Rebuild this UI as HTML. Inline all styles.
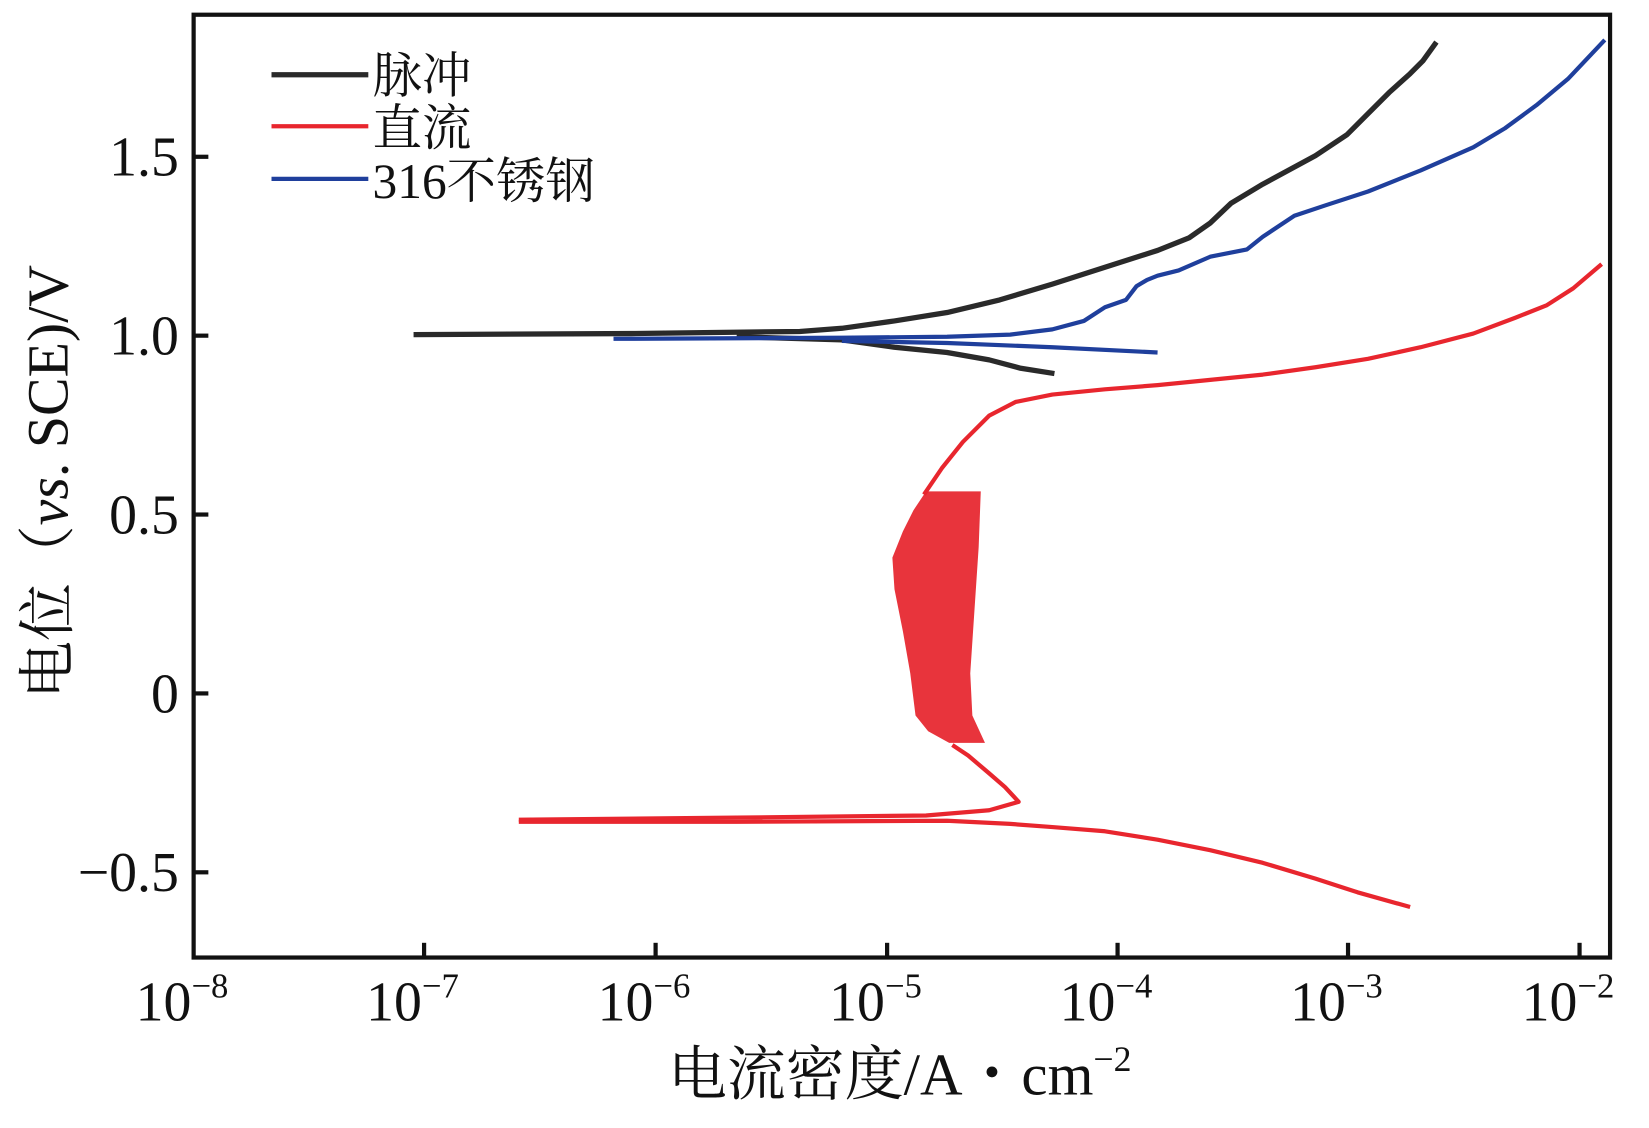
<!DOCTYPE html>
<html><head><meta charset="utf-8"><style>
html,body{margin:0;padding:0;background:#fff;}
svg{display:block;}
text{font-family:"Liberation Serif","Noto Serif CJK SC",serif;fill:#111;}
</style></head><body>
<svg width="1649" height="1128" viewBox="0 0 1567 1072" preserveAspectRatio="none" xmlns="http://www.w3.org/2000/svg">
<rect x="0" y="0" width="1567" height="1072" fill="#fff"/>
<path d="M880,467 L932,467 L930,520 L926,580 L922,640 L924,680 L936,706 L902,706 L882,695 L870,680 L865,640 L858,600 L850,560 L848,530 L858,505 L868,485 Z" fill="#e8343c"/>
<g fill="none" stroke="#e8262e" stroke-width="4" stroke-linejoin="round">
<path d="M493,781 L700,781 L900,780 L960,783 L1000,786 L1050,790 L1100,798 L1150,808 L1200,820 L1250,835 L1290,848 L1340,862"/>
<path d="M493,779 L700,777 L880,775 L940,770 L968,762 L955,748 L940,735 L920,718 L905,708"/>
<path d="M878,470 L895,445 L915,420 L940,395 L965,382 L1000,375 L1050,370 L1100,366 L1150,361 L1200,356 L1250,349 L1300,341 L1350,330 L1400,317 L1440,302 L1470,290 L1495,274 L1522,251"/>
</g>
<g fill="none" stroke="#2a2a2a" stroke-width="5" stroke-linejoin="round">
<path d="M393,318 L600,317 L760,315 L800,312 L850,305 L900,297 L950,285 L1000,270 L1050,254 L1100,238 L1130,226 L1150,212 L1170,193 L1200,175 L1250,148 L1280,128 L1300,108 L1320,88 L1340,70 L1352,58 L1365,40"/>
<path d="M700,320 L800,323 L850,330 L900,335 L940,342 L970,350 L1002,355"/>
</g>
<g fill="none" stroke="#1f3f9c" stroke-width="4" stroke-linejoin="round">
<path d="M583,322 L800,321 L900,320 L960,318 L1000,313 L1030,305 L1050,292 L1070,285 L1080,272 L1090,266 L1100,262 L1120,257 L1150,244 L1185,237 L1200,225 L1230,205 L1260,195 L1300,182 L1350,162 L1400,140 L1430,122 L1460,100 L1490,75 L1525,38"/>
<path d="M800,324 L900,326 L1000,330 L1100,335"/>
</g>
<rect x="184" y="14" width="1346" height="896" fill="none" stroke="#111" stroke-width="4"/>
<g stroke="#111" stroke-width="4">
<line x1="403" y1="910" x2="403" y2="896"/><line x1="623" y1="910" x2="623" y2="896"/>
<line x1="843" y1="910" x2="843" y2="896"/><line x1="1062" y1="910" x2="1062" y2="896"/>
<line x1="1281" y1="910" x2="1281" y2="896"/><line x1="1501" y1="910" x2="1501" y2="896"/>
<line x1="184" y1="149" x2="198" y2="149"/><line x1="184" y1="319" x2="198" y2="319"/>
<line x1="184" y1="489" x2="198" y2="489"/><line x1="184" y1="659" x2="198" y2="659"/>
<line x1="184" y1="829" x2="198" y2="829"/>
</g>
<g font-size="53" text-anchor="end">
<text x="170" y="167">1.5</text><text x="170" y="337">1.0</text>
<text x="170" y="507">0.5</text><text x="170" y="677">0</text>
<text x="170" y="847">−0.5</text>
</g>
<g font-size="53" text-anchor="middle">
<text x="173" y="970">10<tspan font-size="33" dy="-22">−8</tspan></text>
<text x="392" y="970">10<tspan font-size="33" dy="-22">−7</tspan></text>
<text x="612" y="970">10<tspan font-size="33" dy="-22">−6</tspan></text>
<text x="832" y="970">10<tspan font-size="33" dy="-22">−5</tspan></text>
<text x="1051" y="970">10<tspan font-size="33" dy="-22">−4</tspan></text>
<text x="1270" y="970">10<tspan font-size="33" dy="-22">−3</tspan></text>
<text x="1490" y="970">10<tspan font-size="33" dy="-22">−2</tspan></text>
</g>
<text x="855" y="1040" font-size="56" text-anchor="middle">电流密度/A・cm<tspan font-size="34" dy="-22">−2</tspan></text>
<text transform="translate(64,458) rotate(-90)" font-size="55" text-anchor="middle">电位（<tspan font-style="italic">vs</tspan>. SCE)/V</text>
<line x1="258" y1="71" x2="350" y2="71" stroke="#2a2a2a" stroke-width="5"/>
<line x1="258" y1="120" x2="350" y2="120" stroke="#e8262e" stroke-width="4"/>
<line x1="258" y1="170" x2="350" y2="170" stroke="#1f3f9c" stroke-width="4"/>
<g font-size="47">
<text x="354" y="88">脉冲</text><text x="354" y="138">直流</text><text x="354" y="188">316不锈钢</text>
</g>
</svg>
</body></html>
